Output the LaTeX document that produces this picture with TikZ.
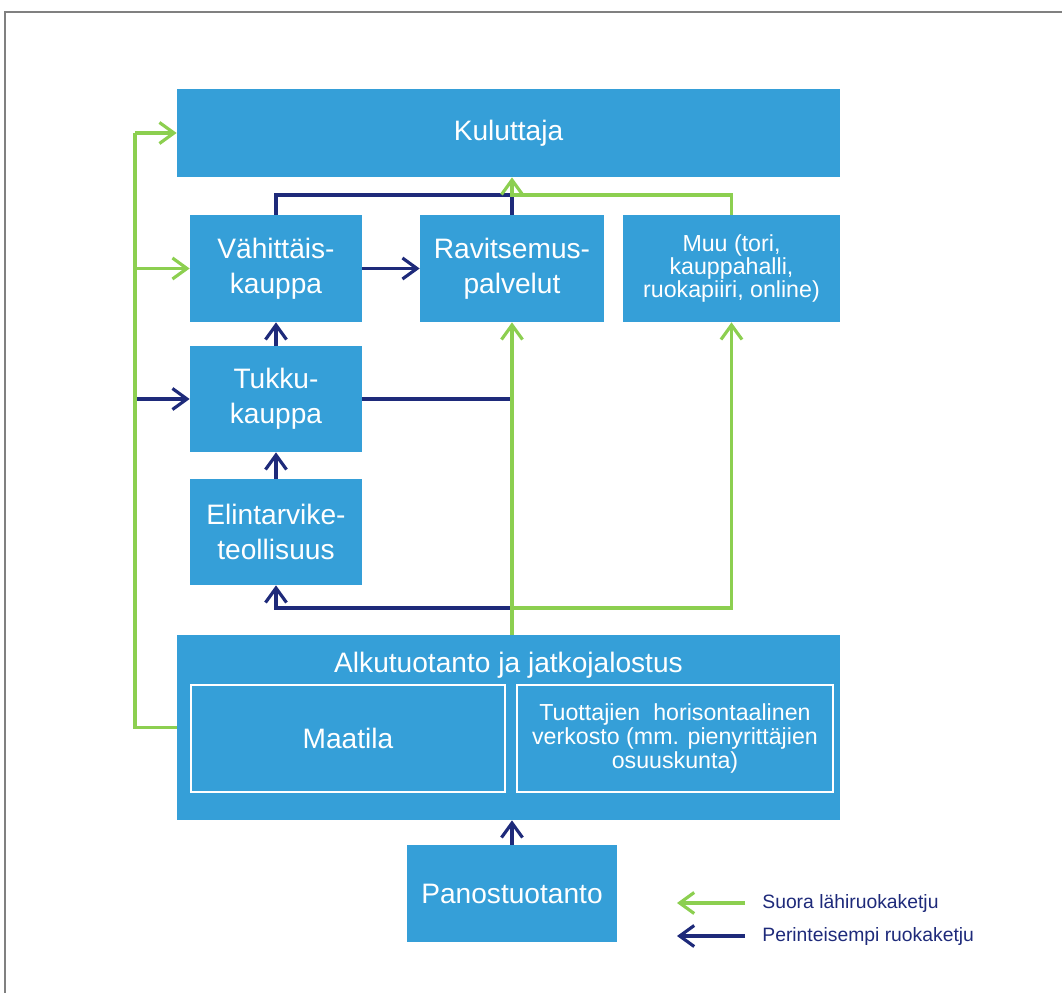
\documentclass[tikz,border=0pt]{standalone}
\usepackage{fontspec}
\setmainfont{Liberation Sans}
\usetikzlibrary{arrows.meta}
\definecolor{boxblue}{RGB}{53,159,216}
\definecolor{chaingreen}{RGB}{140,207,80}
\definecolor{chainnavy}{RGB}{30,42,122}
\tikzset{
  box/.style={fill=boxblue,text=white,align=center,inner sep=0pt,font=\fontsize{16}{20}\selectfont},
  inbox/.style={draw=white,line width=0.9pt,fill=boxblue,text=white,align=center,inner sep=0pt},
  greenline/.style={chaingreen,line width=1.8pt},
  navyline/.style={chainnavy,line width=1.8pt},
  tip/.style={-{Straight Barb[length=2.9mm,width=4.2mm]}}
}
\begin{document}
\begin{tikzpicture}[x=0.2mm,y=-0.2mm]
\useasboundingbox (0,0) rectangle (1062,993);
\draw[gray,line width=1.2pt] (5,993) -- (5,12) -- (1062,12);

\node[box,minimum width=13.26cm,minimum height=1.76cm] (kuluttaja) at (508.5,133) {Kuluttaja};
\node[box,minimum width=3.44cm,minimum height=2.14cm] (vahittais) at (276,268.5) {Vähittäis-\\kauppa};
\node[box,minimum width=3.68cm,minimum height=2.14cm] (ravitsemus) at (512,268.5) {Ravitsemus-\\palvelut};
\node[box,minimum width=4.34cm,minimum height=2.14cm,font=\fontsize{13.2}{13}\selectfont] (muu) at (731.5,268.5) {Muu (tori,\\kauppahalli,\\ruokapiiri, online)};
\node[box,minimum width=3.44cm,minimum height=2.12cm] (tukku) at (276,399) {Tukku-\\kauppa};
\node[box,minimum width=3.44cm,minimum height=2.12cm] (elintarvike) at (276,532) {Elintarvike-\\teollisuus};
\node[box,minimum width=13.26cm,minimum height=3.7cm] (alku) at (508.5,727.5) {};
\node[text=white,anchor=base,inner sep=0pt,font=\fontsize{16}{20}\selectfont] (alkuotsikko) at (508.5,672) {Alkutuotanto ja jatkojalostus};
\node[inbox,minimum width=6.28cm,minimum height=2.14cm,font=\fontsize{16}{20}\selectfont] (maatila) at (348,738.5) {Maatila};
\node[inbox,minimum width=6.32cm,minimum height=2.14cm,font=\fontsize{13.2}{13.8}\selectfont] (verkosto) at (675,738.5) {Tuottajien\ \ horisontaalinen\\verkosto (mm. pienyrittäjien\\osuuskunta)};
\node[box,minimum width=4.2cm,minimum height=1.94cm] (panos) at (512,893.5) {Panostuotanto};

\coordinate (railtop) at (135,133);
\coordinate (ylajako) at (512,195);
\coordinate (alajako) at (512,608);

\draw[navyline,tip] (vahittais.east) -- (ravitsemus.west);
\draw[navyline,tip] (tukku.north) -- (vahittais.south);
\draw[navyline,tip] (elintarvike.north) -- (tukku.south);
\draw[navyline,tip] (panos.north) -- (panos.north |- alku.south);
\draw[navyline] (tukku.east) -- (tukku.east -| ravitsemus.south);
\draw[navyline] (vahittais.north) |- (ylajako) -- (ravitsemus.north);
\draw[navyline,tip] (alajako) -| (elintarvike.south);
\draw[navyline,tip] (railtop |- tukku.west) -- (tukku.west);

\draw[greenline] (alku.west) -| (railtop);
\draw[greenline,tip] (railtop) -- (kuluttaja.west);
\draw[greenline,tip] (railtop |- vahittais.west) -- (vahittais.west);
\draw[greenline,tip] (ravitsemus.south |- alku.north) -- (ravitsemus.south);
\draw[greenline,tip] (alajako) -| (muu.south);
\draw[greenline,tip] (muu.north) |- (ylajako) -- (ylajako |- kuluttaja.south);

\coordinate (suoraalku) at (745,903);
\coordinate (suoraloppu) at (677,903);
\coordinate (perinalku) at (745,936);
\coordinate (perinloppu) at (677,936);
\draw[greenline,tip] (suoraalku) -- (suoraloppu);
\draw[navyline,tip] (perinalku) -- (perinloppu);
\node[anchor=west,inner sep=0pt,text=chainnavy,font=\fontsize{11}{13}\selectfont] (suora) at (762,903) {Suora lähiruokaketju};
\node[anchor=west,inner sep=0pt,text=chainnavy,font=\fontsize{11}{13}\selectfont] (perin) at (762,936) {Perinteisempi ruokaketju};
\end{tikzpicture}
\end{document}
